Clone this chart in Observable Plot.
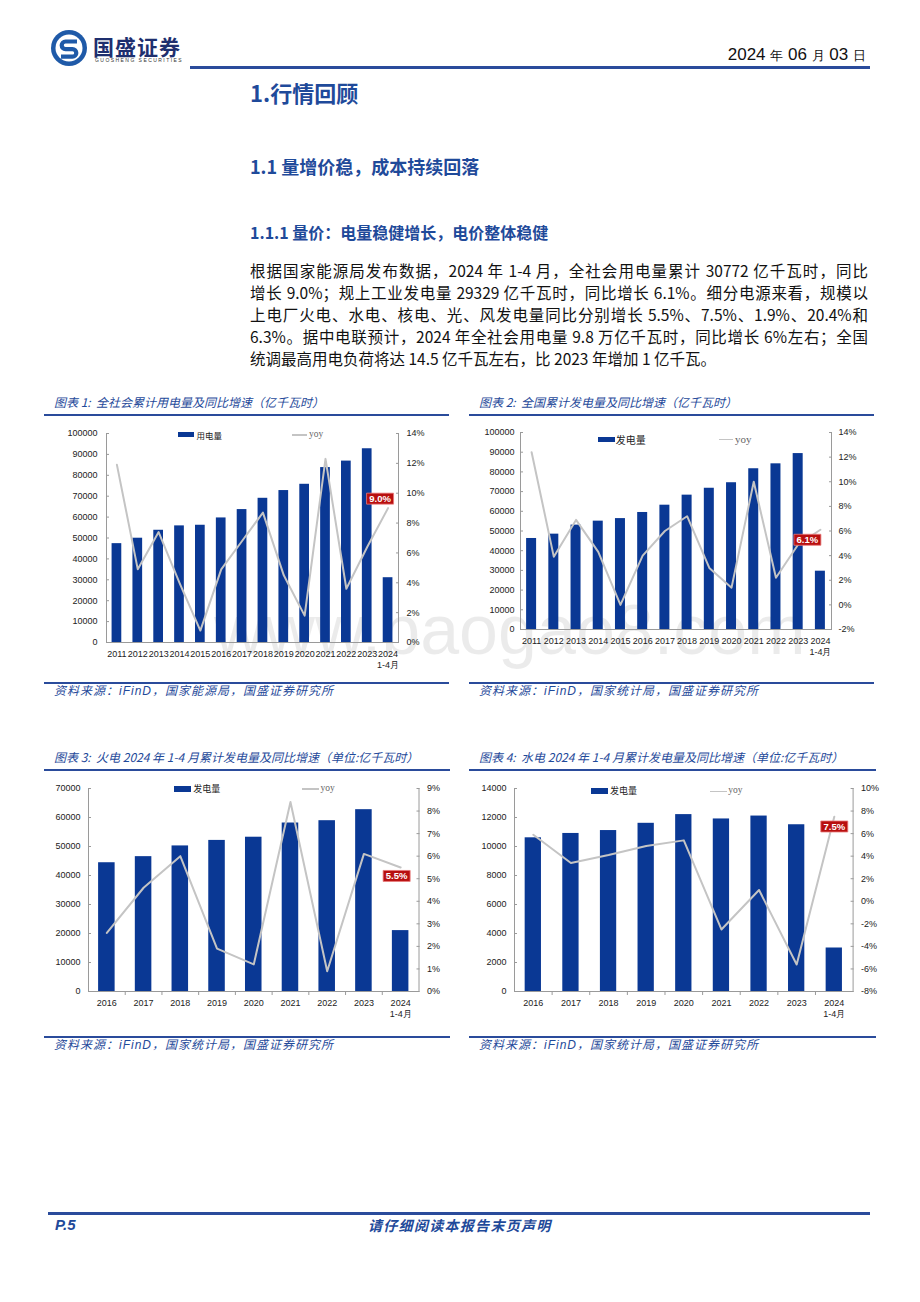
<!DOCTYPE html>
<html><head><meta charset="utf-8">
<script src="https://cdn.jsdelivr.net/npm/d3@7"></script>
<script src="https://cdn.jsdelivr.net/npm/@observablehq/plot@0.6"></script>
<style>
body{margin:0;background:#fff;}
#page{position:relative;width:920px;height:1302px;overflow:hidden;font-family:"Noto Sans CJK SC","Noto Sans",sans-serif;color:#111;}
#page svg{overflow:visible;}
</style></head><body><div id="page"></div>
<script>
// ---------- data ----------
const years11 = ["2011","2012","2013","2014","2015","2016","2017","2018","2019","2020","2021","2022","2023","2024 1-4月"];
const consumption = [47300, 49900, 53700, 55800, 56100, 59600, 63600, 69000, 72700, 75700, 83700, 86800, 92700, 31000];
const consumptionYoy = [11.9, 4.9, 7.4, 4.0, 0.8, 4.9, 6.8, 8.7, 4.5, 1.8, 12.3, 3.6, 6.4, 9.0];
const generation = [46200, 48400, 53000, 55000, 56300, 59400, 63100, 68200, 71700, 74500, 81600, 84100, 89300, 29600];
const generationYoy = [12.4, 3.9, 6.9, 4.3, 0.0, 4.0, 6.0, 7.2, 3.0, 1.4, 10.0, 2.2, 4.9, 6.1];
const years16 = ["2016","2017","2018","2019","2020","2021","2022","2023","2024 1-4月"];
const thermal = [44400, 46500, 50200, 52100, 53200, 58100, 58900, 62700, 21000];
const thermalYoy = [2.6, 4.6, 6.0, 1.9, 1.2, 8.4, 0.9, 6.1, 5.5];
const hydro = [10600, 10900, 11100, 11600, 12200, 11900, 12100, 11500, 3000];
const hydroYoy = [5.9, 3.4, 4.1, 4.9, 5.4, -2.5, 1.0, -5.6, 7.5];

const ticks1L = [0,10000,20000,30000,40000,50000,60000,70000,80000,90000,100000];
const ticks1R = [0,2,4,6,8,10,12,14];
const ticks2L = [0,10000,20000,30000,40000,50000,60000,70000,80000,90000,100000];
const ticks2R = [-2,0,2,4,6,8,10,12,14];
const ticks3L = [0,10000,20000,30000,40000,50000,60000,70000];
const ticks3R = [0,1,2,3,4,5,6,7,8,9];
const ticks4L = [0,2000,4000,6000,8000,10000,12000,14000];
const ticks4R = [-8,-6,-4,-2,0,2,4,6,8,10];

const paraLines = [
  "根据国家能源局发布数据，2024 年 1-4 月，全社会用电量累计 30772 亿千瓦时，同比",
  "增长 9.0%；规上工业发电量 29329 亿千瓦时，同比增长 6.1%。细分电源来看，规模以",
  "上电厂火电、水电、核电、光、风发电量同比分别增长 5.5%、7.5%、1.9%、20.4%和",
  "6.3%。据中电联预计，2024 年全社会用电量 9.8 万亿千瓦时，同比增长 6%左右；全国",
  "统调最高用电负荷将达 14.5 亿千瓦左右，比 2023 年增加 1 亿千瓦。"
];

// ---------- helpers ----------
const BAR = "#0a3894", LINE = "#c4c4c4", AXIS = "#9a9a9a", NAVY = "#1f4a9a";
const page = document.getElementById("page");
function box(css, html = "") {
  const d = document.createElement("div");
  d.style.cssText = "position:absolute;" + css;
  d.innerHTML = html;
  page.appendChild(d);
  return d;
}
function textAt(x, cy, size, html, extra = "") {
  return box(`left:${x}px;top:${cy - size}px;height:${2 * size}px;line-height:${2 * size}px;font-size:${size}px;white-space:nowrap;${extra}`, html);
}
function hline(x1, x2, y, h, color) {
  box(`left:${x1}px;top:${y}px;width:${x2 - x1}px;height:${h}px;background:${color};`);
}

// watermark (behind charts)
textAt(214, 630, 70, "www.baogao8.com", "font-family:'Liberation Sans Narrow','Liberation Sans',sans-serif;color:rgba(0,0,0,0.08);z-index:0;");

// ---------- header ----------
box("left:50px;top:29px;width:38px;height:38px;",
 `<svg width="38" height="38" viewBox="0 0 38 38"><circle cx="19" cy="19" r="18" fill="#1f5aa8"/><circle cx="19" cy="19" r="13.5" fill="#fff"/><path d="M27 12.5 H15.5 a3.8 3.8 0 0 0 0 7.6 H22.5 a3.8 3.8 0 0 1 0 7.6 H11" fill="none" stroke="#1f5aa8" stroke-width="4.2"/></svg>`);
textAt(93, 46, 21, "国盛证券", "font-weight:bold;color:#1e2f6e;letter-spacing:1px;");
textAt(95, 60, 5, "GUOSHENG SECURITIES", "font-family:'Liberation Sans',sans-serif;letter-spacing:1.45px;color:#333;");
box("right:54px;top:44px;height:22px;line-height:22px;white-space:nowrap;font-family:'Liberation Sans Narrow','Liberation Sans',sans-serif;font-size:17px;color:#111;",
  `2024 <span style="font-size:13px">年</span> 06 <span style="font-size:13px">月</span> 03 <span style="font-size:13px">日</span>`);
hline(190, 870, 66, 3, "#2a4b9b");

// ---------- headings & paragraph ----------
textAt(250, 92, 22, "1.行情回顾", `font-weight:bold;color:${NAVY};`);
textAt(250, 166, 18, "1.1 量增价稳，成本持续回落", `font-weight:bold;color:${NAVY};`);
textAt(250, 232, 16, "1.1.1 量价：电量稳健增长，电价整体稳健", `font-weight:bold;color:${NAVY};`);
paraLines.forEach((t, i) => {
  const last = i === paraLines.length - 1;
  box(`left:250px;top:${259 + 22 * i}px;width:618px;height:22px;line-height:22px;font-size:15.5px;color:#111;text-align:${last ? "left" : "justify"};text-align-last:${last ? "left" : "justify"};white-space:nowrap;`, t);
});

// ---------- chart frames (titles, rules, sources) ----------
const titles = [
  {x: 54, y: 402, t: "图表 1:&nbsp; 全社会累计用电量及同比增速（亿千瓦时）", l1: 44, l2: 449, ly: 414, sy: 682, s: "国家能源局"},
  {x: 479, y: 402, t: "图表 2:&nbsp; 全国累计发电量及同比增速（亿千瓦时）", l1: 469, l2: 874, ly: 414, sy: 682, s: "国家统计局"},
  {x: 54, y: 757, t: "图表 3:&nbsp; 火电 2024 年 1-4 月累计发电量及同比增速（单位:亿千瓦时）", l1: 44, l2: 450, ly: 769, sy: 1036, s: "国家统计局"},
  {x: 479, y: 757, t: "图表 4:&nbsp; 水电 2024 年 1-4 月累计发电量及同比增速（单位:亿千瓦时）", l1: 469, l2: 876, ly: 769, sy: 1036, s: "国家统计局"}
];
titles.forEach(c => {
  textAt(c.x, c.y, 12, c.t, `font-style:italic;color:${NAVY};`);
  hline(c.l1, c.l2, c.ly, 2, "#2a4b9b");
  hline(c.l1, c.l2, c.sy, 2, "#2a4b9b");
  textAt(c.x, c.sy + 8, 12, `资料来源：<span style="font-family:'Liberation Sans',sans-serif;">iFinD</span>，${c.s}，国盛证券研究所`, `font-style:italic;color:${NAVY};letter-spacing:1px;`);
});

// ---------- charts ----------
const boxSymbol = {draw(ctx) { ctx.moveTo(-13.5, -5.5); ctx.lineTo(13.5, -5.5); ctx.lineTo(13.5, 5.5); ctx.lineTo(-13.5, 5.5); ctx.closePath(); }};

function drawChart(cfg) {
  const data = cfg.cats.map((c, i) => ({cat: c, v: cfg.bars[i], p: cfg.yoy[i]}));
  const last = [data[data.length - 1]];
  const y0 = cfg.yTicks[0];
  const step = (cfg.w - cfg.mL - cfg.mR) / cfg.cats.length;
  const common = {
    width: cfg.w, height: cfg.h, marginLeft: cfg.mL, marginRight: cfg.mR, marginTop: cfg.mT, marginBottom: cfg.mB,
    style: {background: "transparent", fontFamily: "'Liberation Sans', Arial, sans-serif", fontSize: "9px", color: "#222", overflow: "visible"}
  };
  const barMarks = [
    Plot.barY(data, {x: "cat", y: "v", fill: BAR}),
    Plot.ruleY([y0], {stroke: AXIS}),
    Plot.frame({anchor: "left", stroke: AXIS}),
    Plot.axisY({ticks: cfg.yTicks, tickFormat: d => String(d), tickSize: -3, tickPadding: cfg.lGap + 3, stroke: AXIS, label: null}),
    Plot.axisX({tickSize: 0, tickPadding: 6, tickFormat: d => d.replace(" ", "\n"), lineHeight: 1.25, label: null})
  ];
  if (cfg.boundaryTicks) {
    barMarks.push(Plot.axisX({ticks: cfg.cats.slice(0, -1), tickSize: 4, tickFormat: () => "", dx: step / 2, stroke: AXIS, label: null}));
  }
  const bars = Plot.plot({
    ...common,
    x: {domain: cfg.cats, paddingInner: cfg.pi, paddingOuter: cfg.pi / 2, round: false},
    y: {domain: [y0, cfg.yTicks[cfg.yTicks.length - 1]]},
    marks: barMarks
  });
  const lines = Plot.plot({
    ...common,
    x: {type: "point", domain: cfg.cats, padding: 0.5, round: false, axis: null},
    y: {domain: [cfg.pTicks[0], cfg.pTicks[cfg.pTicks.length - 1]]},
    marks: [
      Plot.frame({anchor: "right", stroke: AXIS}),
      Plot.axisY({anchor: "right", ticks: cfg.pTicks, tickFormat: d => d + "%", tickSize: -3, tickPadding: cfg.rGap + 3, stroke: AXIS, label: null}),
      Plot.line(data, {x: "cat", y: "p", stroke: LINE, strokeWidth: 2}),
      Plot.dot(last, {x: "cat", y: "p", symbol: boxSymbol, fill: "#b80f0f", stroke: "#e87a7a", strokeWidth: 0.8, dx: cfg.dx, dy: cfg.dy}),
      Plot.text(last, {x: "cat", y: "p", text: d => d.p.toFixed(1) + "%", fill: "white", fontWeight: "bold", fontSize: 9.5, dx: cfg.dx, dy: cfg.dy})
    ]
  });
  const holder = box(`left:${cfg.left}px;top:${cfg.top}px;width:${cfg.w}px;height:${cfg.h}px;z-index:1;`);
  bars.style.position = "absolute"; bars.style.left = "0"; bars.style.top = "0";
  lines.style.position = "absolute"; lines.style.left = "0"; lines.style.top = "0";
  holder.appendChild(bars);
  holder.appendChild(lines);
  // legend
  const L = cfg.legend;
  box(`left:${L.sx}px;top:${L.sy}px;width:${L.sw}px;height:${L.sh}px;background:${BAR};z-index:2;`);
  textAt(L.tx, L.cy, L.fs, L.name, "color:#222;z-index:2;");
  box(`left:${L.lx}px;top:${L.cy - 0.75}px;width:${L.lw}px;height:1.5px;background:${LINE};z-index:2;`);
  textAt(L.yx, L.cy - 1, L.yfs, "yoy", "font-family:'Liberation Serif','DejaVu Serif',serif;color:#666;z-index:2;");
}

drawChart({cats: years11, bars: consumption, yoy: consumptionYoy, yTicks: ticks1L, pTicks: ticks1R,
  left: 44, top: 420, w: 410, h: 262, mL: 62, mR: 56, mT: 13, mB: 40, pi: 0.535, lGap: 9, rGap: 8, dx: -8, dy: -9.5,
  legend: {sx: 177.5, sy: 432.3, sw: 16.7, sh: 5.2, tx: 196.5, cy: 435, fs: 8.5, name: "用电量", lx: 291.7, lw: 15.5, yx: 309, yfs: 9.5}});
drawChart({cats: years11, bars: generation, yoy: generationYoy, yTicks: ticks2L, pTicks: ticks2R,
  left: 469, top: 420, w: 406, h: 262, mL: 51, mR: 44, mT: 12, mB: 53, pi: 0.55, lGap: 6, rGap: 7, dx: -13, dy: 10,
  legend: {sx: 598.3, sy: 436.7, sw: 16.7, sh: 5.6, tx: 615.7, cy: 439.7, fs: 10, name: "发电量", lx: 719, lw: 14.3, yx: 735, yfs: 11}});
drawChart({cats: years16, bars: thermal, yoy: thermalYoy, yTicks: ticks3L, pTicks: ticks3R, boundaryTicks: true,
  left: 44, top: 776, w: 406, h: 260, mL: 44, mR: 31.5, mT: 12, mB: 45, pi: 0.55, lGap: 8, rGap: 8, dx: -4, dy: 8.5,
  legend: {sx: 174, sy: 785.7, sw: 17.3, sh: 6, tx: 193.3, cy: 789, fs: 9, name: "发电量", lx: 302.3, lw: 16.7, yx: 320.5, yfs: 9.5}});
drawChart({cats: years16, bars: hydro, yoy: hydroYoy, yTicks: ticks4L, pTicks: ticks4R, boundaryTicks: true,
  left: 469, top: 776, w: 412, h: 260, mL: 45, mR: 28.4, mT: 12, mB: 45, pi: 0.567, lGap: 8, rGap: 8, dx: 0, dy: 9.8,
  legend: {sx: 590.7, sy: 788.3, sw: 17.6, sh: 5.7, tx: 610, cy: 791.3, fs: 9, name: "发电量", lx: 710, lw: 17.3, yx: 728.3, yfs: 9.5}});

// ---------- footer ----------
hline(48, 870, 1212, 3, "#2a4b9b");
textAt(55, 1225, 15, "P.5", `font-family:'Liberation Sans',sans-serif;font-weight:bold;font-style:italic;color:${NAVY};`);
textAt(368, 1225, 14, "请仔细阅读本报告末页声明", `font-weight:bold;font-style:italic;color:${NAVY};letter-spacing:1.3px;`);
</script>
</body></html>
